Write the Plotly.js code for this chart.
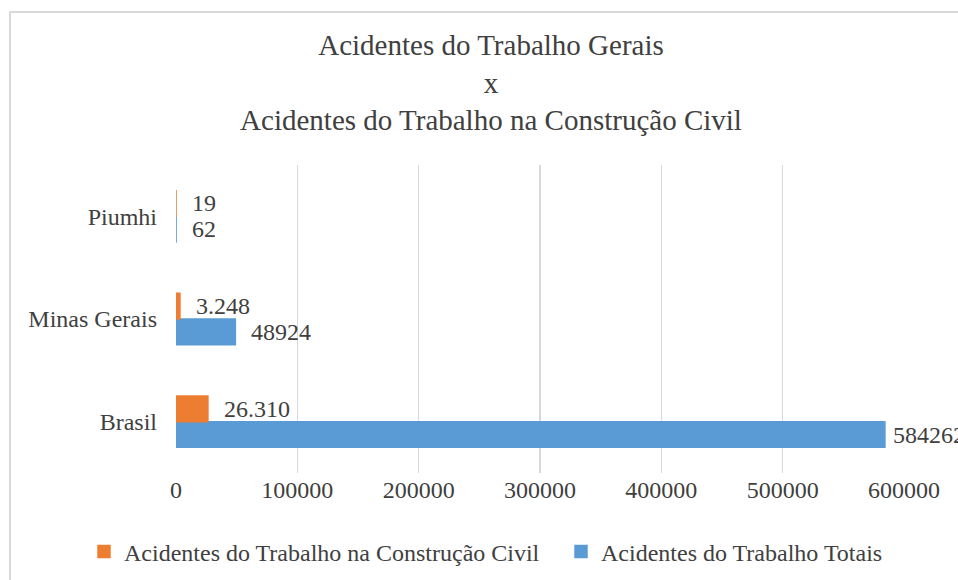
<!DOCTYPE html>
<html>
<head>
<meta charset="utf-8">
<script src="https://cdn.plot.ly/plotly-3.0.1.min.js"></script>
<style>
  html, body { margin: 0; padding: 0; background: #ffffff; overflow: hidden; }
  #chart { width: 958px; height: 580px; position: absolute; left: 0; top: 0; }
  #frame { position: absolute; left: 9px; top: 11px; width: 1000px; height: 620px;
           border-left: 2px solid #d9d9d9; border-top: 2px solid #d9d9d9; pointer-events: none; }
</style>
</head>
<body>
<div id="chart"></div>
<div id="frame"></div>
<script>
// ---- data ----
const categories = ['Brasil', 'Minas Gerais', 'Piumhi'];
const construcaoValues = [26310, 3248, 19];
const construcaoLabels = ['26.310', '3.248', '19'];
const totaisValues = [584262, 48924, 62];
const totaisLabels = ['584262', '48924', '62'];
const seriesNames = ['Acidentes do Trabalho na Construção Civil', 'Acidentes do Trabalho Totais'];
const xTicks = [0, 100000, 200000, 300000, 400000, 500000, 600000];

const ORANGE = '#ED7D31';
const BLUE = '#5B9BD5';
const FONT = 'Liberation Serif';
const TXT = '#404040';
const XMAX = 600000;

const traces = [
  { type: 'bar', orientation: 'h', name: seriesNames[1], y: categories, x: totaisValues,
    marker: { color: BLUE, line: { color: BLUE, width: 1.5 } }, legend: 'legend2', hoverinfo: 'x' },
  { type: 'bar', orientation: 'h', name: seriesNames[0], y: categories, x: construcaoValues,
    marker: { color: ORANGE, line: { color: ORANGE, width: 1.5 } }, legend: 'legend', hoverinfo: 'x' }
];

function shiftFor(v) { return v > 0.9 * XMAX ? 6 : 14; }

const annotations = [];
categories.forEach((c, i) => {
  annotations.push({ x: construcaoValues[i], y: c, text: construcaoLabels[i], showarrow: false,
    xanchor: 'left', yanchor: 'middle', xshift: shiftFor(construcaoValues[i]), yshift: 13,
    font: { family: FONT, size: 24, color: TXT } });
  annotations.push({ x: totaisValues[i], y: c, text: totaisLabels[i], showarrow: false,
    xanchor: 'left', yanchor: 'middle', xshift: shiftFor(totaisValues[i]), yshift: -13,
    font: { family: FONT, size: 24, color: TXT } });
});

const legendStyle = {
  orientation: 'h', xref: 'container', xanchor: 'left',
  yref: 'container', y: 1 - 552 / 580, yanchor: 'middle',
  font: { family: FONT, size: 24, color: TXT }, itemwidth: 30,
  bgcolor: 'rgba(0,0,0,0)'
};

const layout = {
  width: 958, height: 580,
  paper_bgcolor: '#ffffff', plot_bgcolor: '#ffffff',
  margin: { l: 176, r: 54, t: 165, b: 107 },
  font: { family: FONT, color: TXT, size: 24 },
  title: {
    text: 'Acidentes do Trabalho Gerais<br>x<br>Acidentes do Trabalho na Construção Civil',
    font: { family: FONT, size: 29, color: TXT },
    xref: 'container', x: 491 / 958, xanchor: 'center',
    yref: 'container', y: 1 - 55 / 580, yanchor: 'middle'
  },
  barmode: 'group', bargap: 0.5, bargroupgap: 0,
  xaxis: {
    range: [0, XMAX], tickvals: xTicks, ticktext: xTicks.map(String),
    showgrid: true, gridcolor: '#d9d9d9', gridwidth: 1.5, zeroline: false,
    showline: false, ticks: '', tickfont: { family: FONT, size: 24, color: TXT },
    fixedrange: true
  },
  yaxis: {
    type: 'category', categoryorder: 'array', categoryarray: categories,
    showgrid: false, zeroline: false, showline: false, ticks: '',
    ticklabelstandoff: 18, tickfont: { family: FONT, size: 24, color: TXT },
    fixedrange: true
  },
  showlegend: true,
  legend: Object.assign({}, legendStyle, { x: 84 / 958 }),
  legend2: Object.assign({}, legendStyle, { x: 561 / 958 }),
  annotations: annotations
};

Plotly.newPlot('chart', traces, layout, { displayModeBar: false, staticPlot: true });
</script>
</body>
</html>
